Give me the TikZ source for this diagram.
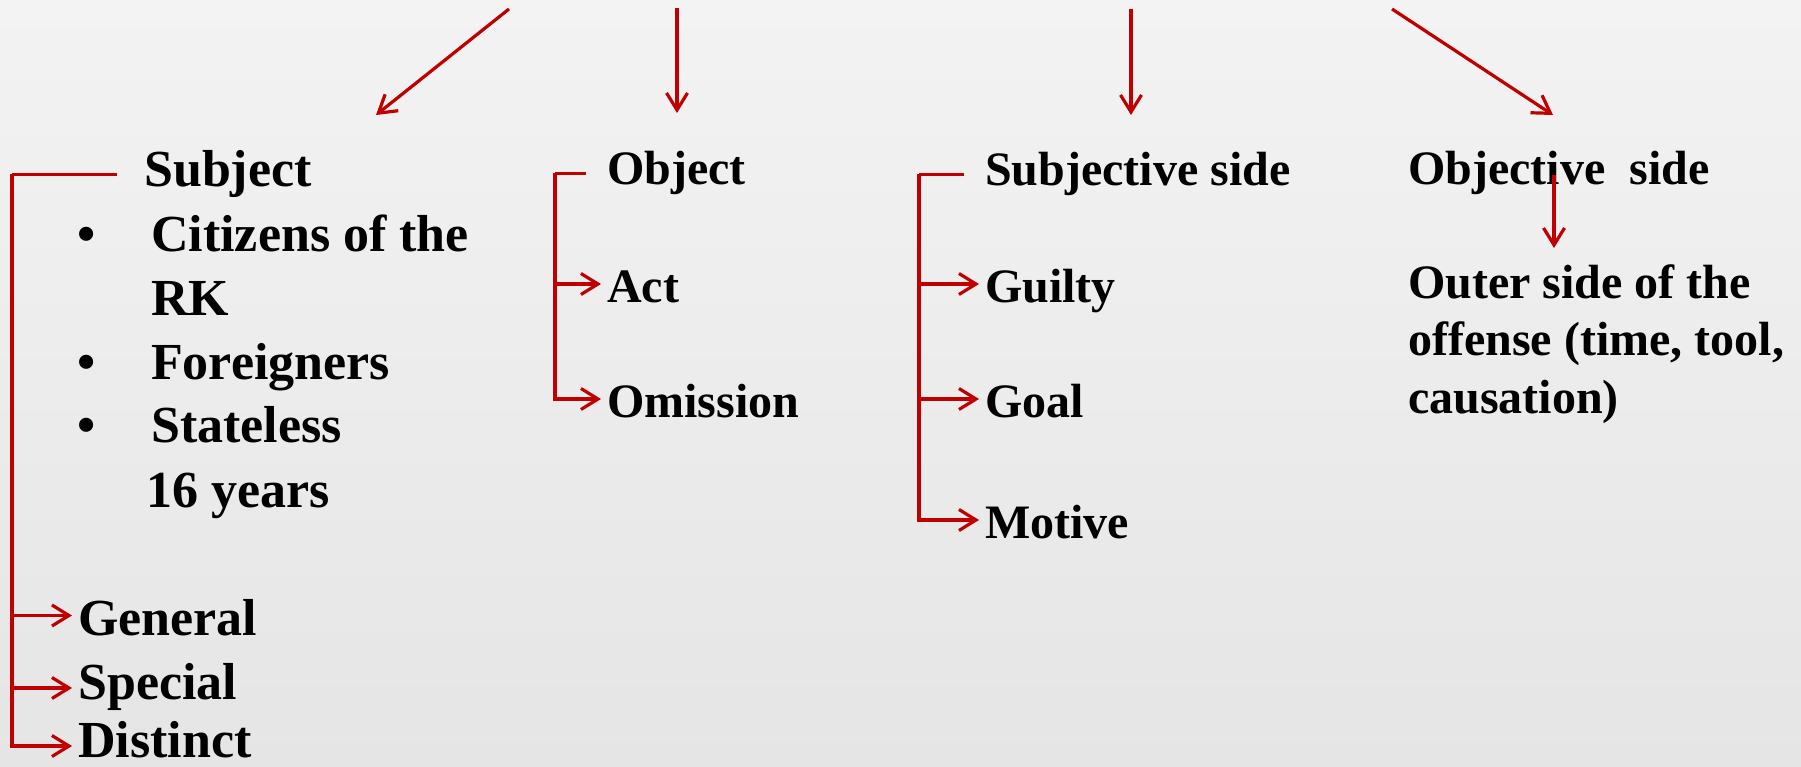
\documentclass[tikz,border=0pt]{standalone}
\usepackage{fontspec}
\setmainfont{Liberation Serif}
\usetikzlibrary{arrows.meta}
\definecolor{darkred}{RGB}{192,0,0}
\definecolor{bgtop}{RGB}{243,243,243}
\definecolor{bgbot}{RGB}{229,229,229}

\begin{document}
\begin{tikzpicture}[x=1pt,y=-1pt]
	\tikzstyle{link}=[draw=darkred,line width=3.2pt]
	\tikzstyle{arr}=[link,-{Straight Barb[length=17pt,width=21pt]}]
	\tikzstyle{big}=[font=\bfseries\fontsize{52pt}{63pt}\selectfont,inner sep=0pt,anchor=base west]
	\tikzstyle{mid}=[font=\bfseries\fontsize{48pt}{57.5pt}\selectfont,inner sep=0pt,anchor=base west]
	\tikzstyle{bigleaf}=[big,inner xsep=6pt,text height=39pt,text depth=0pt]
	\tikzstyle{midleaf}=[mid,inner xsep=6pt,text height=36pt,text depth=0pt]

	\useasboundingbox (0,0) rectangle (1801,767);
	\shade[top color=bgtop,bottom color=bgbot] (0,0) rectangle (1801,767);

	% subject
	\node[big] (subj) at (144,187) {Subject};
	\node[big] (b1) at (77,252) {\textbullet};
	\node[big,align=left] (cit) at (151,315) {Citizens of the\\RK};
	\node[big] (b2) at (77,379) {\textbullet};
	\node[big] (foreign) at (151,379) {Foreigners};
	\node[big] (b3) at (77,442) {\textbullet};
	\node[big] (stateless) at (151,442) {Stateless};
	\node[big] (age) at (146,507) {16 years};
	\node[bigleaf] (gen) at (72,635) {General};
	\node[bigleaf,text height=30pt,text depth=8pt] (spec) at (72,699) {Special};
	\node[bigleaf,text height=22pt] (dist) at (72,757) {Distinct};

	% object
	\node[mid] (obj) at (607,185) {Object};
	\node[midleaf] (act) at (601,302) {Act};
	\node[midleaf] (omis) at (601,417) {Omission};

	% subjective side
	\node[mid] (subside) at (985,186) {Subjective side};
	\node[midleaf] (guilty) at (979,302) {Guilty};
	\node[midleaf] (goal) at (979,417) {Goal};
	\node[midleaf] (motive) at (979,538) {Motive};

	% objective side
	\node[mid] (objside) at (1408,185) {Objective~~side};
	\node[mid,align=left] (outer) at (1408,413) {Outer side of the\\offense (time, tool,\\causation)};

	% brackets
	\coordinate (sbar) at ([xshift=-132pt]subj.west);
	\draw[link] ([xshift=-27pt]subj.west) -- (sbar);
	\foreach \n in {gen,spec,dist}
		\draw[arr] (sbar) |- (\n);

	\coordinate (obar) at ([xshift=-52pt]obj.west);
	\draw[link] ([xshift=-21pt]obj.west) -- (obar);
	\foreach \n in {act,omis}
		\draw[arr] (obar) |- (\n);

	\coordinate (sjbar) at ([xshift=-66pt]subside.west);
	\draw[link] ([xshift=-21pt]subside.west) -- (sjbar);
	\foreach \n in {guilty,goal,motive}
		\draw[arr] (sjbar) |- (\n);

	% arrows from above
	\coordinate (t1) at (509,9);   \coordinate (h1) at (376,115);
	\coordinate (t2) at (677,8);   \coordinate (h2) at (677,113);
	\coordinate (t3) at (1131,9);  \coordinate (h3) at (1131,115);
	\coordinate (t4) at (1392,9);  \coordinate (h4) at (1553,115);
	\foreach \i in {1,...,4}
		\draw[arr] (t\i) -- (h\i);

	\coordinate (os1) at (1554,175); \coordinate (os2) at (1554,248);
	\draw[arr] (os1) -- (os2);
\end{tikzpicture}
\end{document}
